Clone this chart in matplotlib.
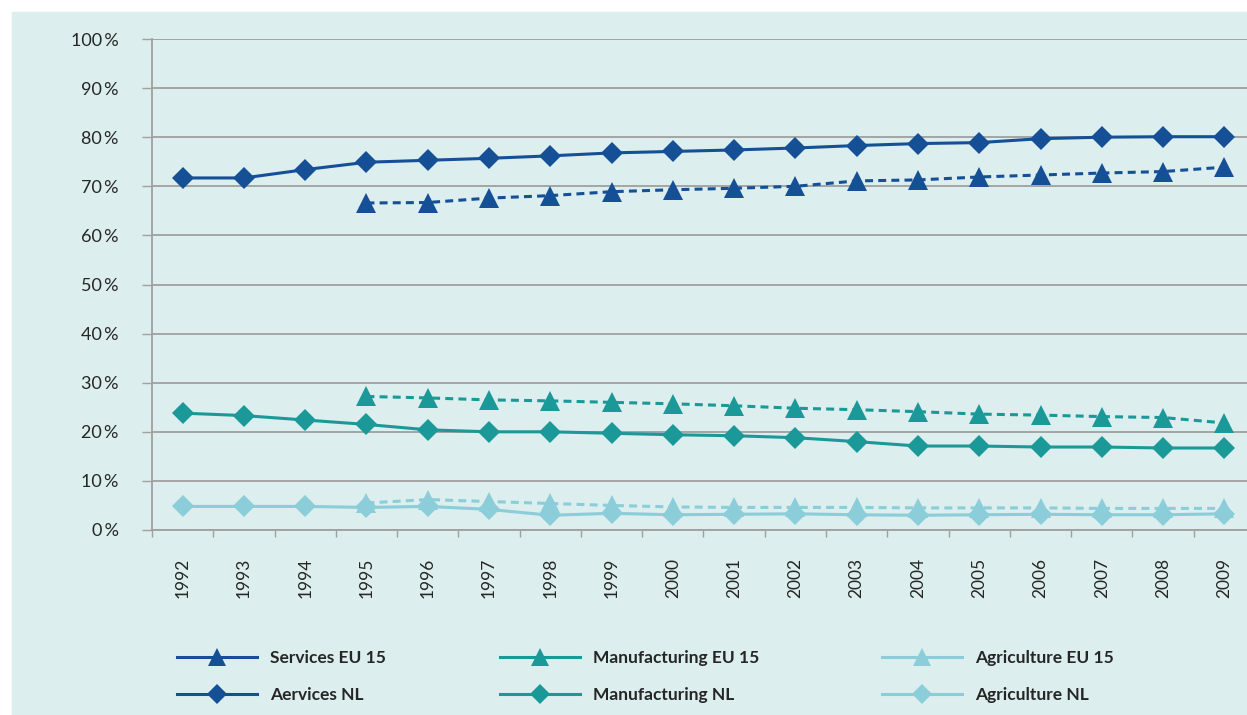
import matplotlib
matplotlib.use("Agg")
import matplotlib.pyplot as plt
from matplotlib.lines import Line2D
from matplotlib.patches import Rectangle
from matplotlib.ticker import FixedLocator

plt.rcParams['font.family'] = ['Lato', 'DejaVu Sans']

# data (share of employment, %)
years = [str(y) for y in range(1992, 2010)]
eu_years = years[3:]

services_nl = [71.7, 71.7, 73.4, 74.9, 75.3, 75.7, 76.2, 76.8, 77.1, 77.4,
               77.8, 78.3, 78.7, 78.9, 79.7, 80.0, 80.1, 80.1]
manufacturing_nl = [23.8, 23.3, 22.4, 21.5, 20.4, 20.0, 20.0, 19.7, 19.4, 19.2,
                    18.8, 18.0, 17.1, 17.1, 16.9, 16.9, 16.7, 16.7]
agriculture_nl = [4.8, 4.8, 4.8, 4.6, 4.8, 4.2, 3.0, 3.4, 3.1, 3.2,
                  3.3, 3.1, 3.0, 3.1, 3.2, 3.1, 3.1, 3.3]

services_eu = [66.6, 66.7, 67.6, 68.1, 68.9, 69.3, 69.6, 70.0, 71.1, 71.3,
               71.9, 72.3, 72.7, 73.0, 73.9]
manufacturing_eu = [27.2, 26.9, 26.5, 26.3, 26.0, 25.7, 25.3, 24.8, 24.5, 24.1,
                    23.6, 23.4, 23.1, 22.9, 21.8]
agriculture_eu = [5.5, 6.2, 5.8, 5.4, 5.0, 4.7, 4.6, 4.6, 4.6, 4.5,
                  4.5, 4.5, 4.4, 4.4, 4.4]

c_serv = "#154f96"
c_manu = "#1b9898"
c_agri = "#8bcdd8"
bg = "#dceeee"

fig = plt.figure(figsize=(12.47, 7.15), dpi=100)
fig.patches.append(Rectangle((12 / 1247, 0), 1, (715 - 12) / 715,
                             transform=fig.transFigure, color=bg, zorder=-5))
ax = fig.add_axes([152 / 1247, 185 / 715, 1103 / 1247, 491 / 715])
ax.set_facecolor("none")

x_all = list(range(len(years)))
x_eu = x_all[3:]

lw = 2.2
dash = (2.6, 1.7)

def nl_line(vals, col):
    ax.plot(x_all, vals, color=col, lw=lw, marker="D", markersize=11,
            markeredgewidth=0, zorder=4)

def eu_line(vals, col):
    ax.plot(x_eu, vals, color=col, lw=lw, linestyle=(0, dash), marker="^",
            markersize=14, markeredgewidth=0, zorder=3)

eu_line(services_eu, c_serv)
nl_line(services_nl, c_serv)
eu_line(manufacturing_eu, c_manu)
nl_line(manufacturing_nl, c_manu)
eu_line(agriculture_eu, c_agri)
nl_line(agriculture_nl, c_agri)

ax.set_xlim(-0.5, len(years) - 0.5)
ax.set_ylim(0, 100)
ax.set_yticks(range(0, 101, 10))
ax.set_yticklabels([f"{v}\u2009%" for v in range(0, 101, 10)])
ax.yaxis.grid(True, color="#a0a0a0", lw=1.3)
ax.set_axisbelow(True)
ax.tick_params(axis="y", length=7, width=1, color="#a0a0a0", pad=17,
               labelsize=13, labelcolor="#262626")

ax.set_xticks(x_all)
ax.set_xticklabels(years, rotation=90, va="top", ha="center")
ax.xaxis.set_minor_locator(FixedLocator([i + 0.5 for i in range(-1, len(years))]))
ax.tick_params(axis="x", which="major", length=0, pad=20, labelsize=12.5,
               labelcolor="#262626")
ax.tick_params(axis="x", which="minor", length=5, width=1, color="#a0a0a0")

for s in ["top", "right"]:
    ax.spines[s].set_visible(False)
for s in ["left", "bottom"]:
    ax.spines[s].set_color("#a0a0a0")
    ax.spines[s].set_linewidth(1.3)

# legend: three columns, solid lines with markers
cols = [(c_serv, "Services EU 15", "Aervices NL", 170),
        (c_manu, "Manufacturing EU 15", "Manufacturing NL", 493),
        (c_agri, "Agriculture EU 15", "Agriculture NL", 875)]
for col, lab_eu, lab_nl, xpx in cols:
    h = [Line2D([], [], color=col, lw=lw, marker="^", markersize=13, markeredgewidth=0),
         Line2D([], [], color=col, lw=lw, marker="D", markersize=10, markeredgewidth=0)]
    fig.legend(h, [lab_eu, lab_nl], loc="upper left",
               bbox_to_anchor=(xpx / 1247, 1 - 643 / 715), frameon=False,
               handlelength=4.6, handletextpad=0.75, labelspacing=1.2,
               prop={"weight": "bold", "size": 12.5}, labelcolor="#262626",
               borderaxespad=0)

fig.savefig("out.png", dpi=100)
